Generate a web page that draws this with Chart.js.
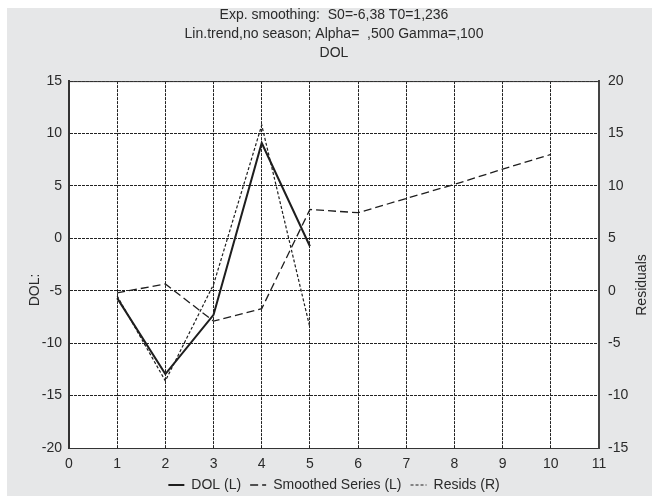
<!DOCTYPE html>
<html>
<head>
<meta charset="utf-8">
<script src="https://cdn.jsdelivr.net/npm/chart.js@4"></script>
<style>
  html, body { margin: 0; padding: 0; background: #fff; }
  #wrap { width: 652px; height: 496px; }
</style>
</head>
<body>
<div id="wrap"><canvas id="myChart" width="652" height="496"></canvas></div>
<script>
// values
const dolX = [1, 2, 3, 4, 5];
const dolValues = [-5.7, -12.95, -7.3, 9.1, -0.75];
const smoothX = [1, 2, 3, 4, 5, 6, 7, 8, 9, 10];
const smoothValues = [-5.2, -4.35, -7.9, -6.7, 2.75, 2.45, 3.8, 5.15, 6.6, 8.0];
const residX = [1, 2, 3, 4, 5];
const residValues = [-0.5, -8.6, 0.6, 15.8, -3.5];
const xTicks = [0, 1, 2, 3, 4, 5, 6, 7, 8, 9, 10, 11];
const leftTicks = [-20, -15, -10, -5, 0, 5, 10, 15];
const rightTicks = [-15, -10, -5, 0, 5, 10, 15, 20];
const titleLines = [
  'Exp. smoothing:  S0=-6,38 T0=1,236',
  'Lin.trend,no season; Alpha=  ,500 Gamma=,100',
  'DOL'
];

const FONT = '"Liberation Sans", Arial, sans-serif';
const INK = '#2a2a2a';
const SIZE = 14;

const toPoints = (xs, ys) => xs.map((x, i) => ({ x: x, y: ys[i] }));

const frame = {
  id: 'frame',
  beforeDraw(chart) {
    const { ctx, chartArea: a } = chart;
    ctx.save();
    ctx.fillStyle = '#ffffff';
    ctx.fillRect(0, 0, chart.width, chart.height);
    ctx.fillStyle = '#e6e7e8';
    ctx.fillRect(7, 8, chart.width - 7, chart.height - 8);
    ctx.fillStyle = '#ffffff';
    ctx.fillRect(a.left, a.top, a.right - a.left, a.bottom - a.top);
    ctx.restore();
  },
  afterDraw(chart) {
    const { ctx, chartArea: a } = chart;
    ctx.save();
    ctx.strokeStyle = '#333';
    ctx.lineWidth = 1;
    ctx.beginPath();
    ctx.moveTo(a.left, a.top + 0.5);
    ctx.lineTo(a.right, a.top + 0.5);
    ctx.stroke();
    // axis titles
    ctx.fillStyle = INK;
    ctx.font = SIZE + 'px ' + FONT;
    ctx.textAlign = 'center';
    ctx.textBaseline = 'middle';
    ctx.translate(35, 290);
    ctx.rotate(-Math.PI / 2);
    ctx.fillText('DOL:', 0, 0);
    ctx.restore();
    ctx.save();
    ctx.fillStyle = INK;
    ctx.font = SIZE + 'px ' + FONT;
    ctx.textAlign = 'center';
    ctx.textBaseline = 'middle';
    ctx.translate(642, 285);
    ctx.rotate(-Math.PI / 2);
    ctx.fillText('Residuals', 0, 0);
    ctx.restore();
  }
};

new Chart(document.getElementById('myChart'), {
  type: 'line',
  data: {
    datasets: [
      {
        label: 'DOL (L)',
        data: toPoints(dolX, dolValues),
        yAxisID: 'y',
        borderColor: '#1e1e1e',
        backgroundColor: 'transparent',
        borderWidth: 2,
        pointRadius: 0,
        tension: 0
      },
      {
        label: 'Smoothed Series (L)',
        data: toPoints(smoothX, smoothValues),
        yAxisID: 'y',
        borderColor: '#1e1e1e',
        backgroundColor: 'transparent',
        borderWidth: 1.3,
        borderDash: [8, 4],
        pointRadius: 0,
        tension: 0
      },
      {
        label: 'Resids (R)',
        data: toPoints(residX, residValues),
        yAxisID: 'y2',
        borderColor: '#1e1e1e',
        backgroundColor: 'transparent',
        borderWidth: 1.2,
        borderDash: [3, 2],
        pointRadius: 0,
        tension: 0
      }
    ]
  },
  options: {
    responsive: false,
    animation: false,
    events: [],
    layout: { padding: { top: 0, left: 0, right: 0, bottom: -6 } },
    plugins: {
      title: {
        display: true,
        fullSize: false,
        text: titleLines,
        color: INK,
        font: { family: FONT, size: SIZE, weight: 'normal', lineHeight: 1.36 },
        padding: { top: 6, bottom: 18 }
      },
      legend: {
        display: true,
        fullSize: false,
        position: 'bottom',
        labels: {
          color: INK,
          font: { family: FONT, size: SIZE },
          usePointStyle: true,
          pointStyle: 'line',
          pointStyleWidth: 16,
          boxHeight: 8,
          padding: 9,
          generateLabels: chart => Chart.defaults.plugins.legend.labels.generateLabels(chart).map((item, i) => {
            const ds = chart.data.datasets[i];
            item.lineDash = ds.borderDash || [];
            item.lineWidth = ds.borderWidth;
            return item;
          })
        }
      },
      tooltip: { enabled: false }
    },
    scales: {
      x: {
        type: 'linear',
        min: 0,
        max: 11,
        afterBuildTicks: s => { s.ticks = xTicks.map(v => ({ value: v })); },
        afterFit: s => { s.height = 21; },
        ticks: { color: INK, font: { family: FONT, size: SIZE }, padding: 8 },
        grid: { color: '#222', lineWidth: 1, drawTicks: false },
        border: { display: true, color: '#333', width: 1, dash: [3, 1] }
      },
      y: {
        position: 'left',
        min: -20,
        max: 15,
        afterBuildTicks: s => { s.ticks = leftTicks.map(v => ({ value: v })); },
        afterFit: s => { s.width = 69; },
        ticks: { color: INK, font: { family: FONT, size: SIZE }, padding: 7 },
        grid: { color: '#222', lineWidth: 1, drawTicks: false },
        border: { display: true, color: '#333', width: 2, dash: [3, 1] }
      },
      y2: {
        position: 'right',
        min: -15,
        max: 20,
        afterBuildTicks: s => { s.ticks = rightTicks.map(v => ({ value: v })); },
        afterFit: s => { s.width = 53; },
        ticks: { color: INK, font: { family: FONT, size: SIZE }, padding: 9 },
        grid: { drawOnChartArea: false, drawTicks: false },
        border: { display: true, color: '#444', width: 2 }
      }
    }
  },
  plugins: [frame]
});
</script>
</body>
</html>
